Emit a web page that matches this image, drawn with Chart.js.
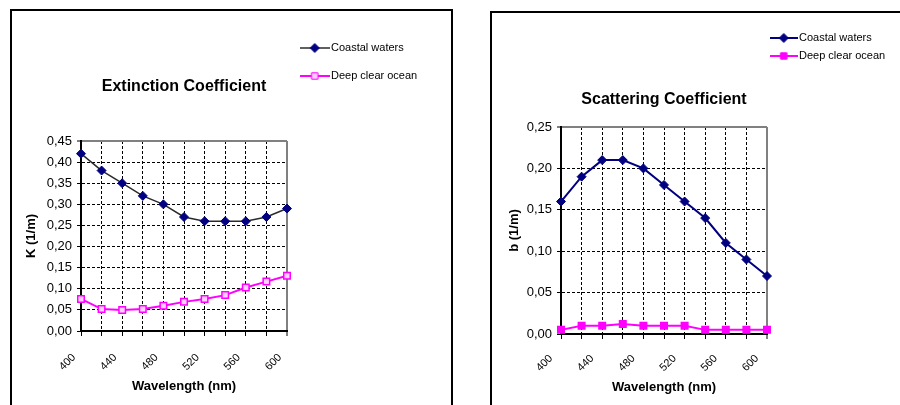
<!DOCTYPE html>
<html><head><meta charset="utf-8">
<script src="https://cdn.jsdelivr.net/npm/chart.js@4"></script>
<style>
html,body{margin:0;padding:0;background:#fff;width:900px;height:405px;overflow:hidden;position:relative;}
.frame{position:absolute;border:2px solid #000;box-sizing:border-box;}
#f1{left:10px;top:9px;width:443px;height:420px;}
#f2{left:490px;top:11px;width:430px;height:420px;}
canvas{position:absolute;}
#c1{left:14px;top:13px;}
#c2{left:494px;top:15px;}
</style></head><body>
<div class="frame" id="f1"></div><div class="frame" id="f2"></div>
<canvas id="c1" width="434" height="392"></canvas>
<canvas id="c2" width="406" height="390"></canvas>
<script>
// ---- data ----
const wavelengths = [400,420,440,460,480,500,520,540,560,580,600];
const shownWavelengths = [400,440,480,520,560,600];
const seriesNames = ['Coastal waters','Deep clear ocean'];
const coastalK = [0.42,0.38,0.35,0.32,0.30,0.27,0.26,0.26,0.26,0.27,0.29];
const deepK = [0.076,0.052,0.050,0.052,0.060,0.069,0.076,0.085,0.103,0.117,0.131];
const coastalB = [0.16,0.19,0.21,0.21,0.20,0.18,0.16,0.14,0.11,0.09,0.07];
const deepB = [0.005,0.010,0.010,0.012,0.010,0.010,0.010,0.005,0.005,0.005,0.005];

const FONT = '"Liberation Sans", Arial, sans-serif';

function legendIcon(w, lineColor, lineWidth, shape, fill, stroke, r){
  const c = document.createElement('canvas'); c.width = w; c.height = 12;
  const g = c.getContext('2d');
  g.strokeStyle = lineColor; g.lineWidth = lineWidth;
  g.beginPath(); g.moveTo(0,6); g.lineTo(w,6); g.stroke();
  g.fillStyle = fill; g.strokeStyle = stroke; g.lineWidth = 1;
  g.beginPath();
  if (shape === 'diamond') { g.moveTo(w/2-r,6); g.lineTo(w/2,6-r); g.lineTo(w/2+r,6); g.lineTo(w/2,6+r); g.closePath(); }
  else { g.rect(w/2-r,6-r,2*r,2*r); }
  g.fill(); g.stroke();
  return c;
}

const legendWidthPlugin = w => ({
  id: 'legendWidth',
  beforeLayout(chart){
    const lg = chart.legend;
    if (lg && !lg._fixedW) {
      const fit = lg.fit;
      lg.fit = function(){ fit.call(this); this.width = w; };
      lg._fixedW = true;
    }
  }
});

function buildChart(id, o){
  const isTopY = ctx => ctx.tick && Math.abs(ctx.tick.value - o.max) < 1e-6;
  const isLastX = ctx => ctx.index === wavelengths.length - 1;
  return new Chart(document.getElementById(id), {
    type: 'line',
    data: {
      labels: wavelengths.map(String),
      datasets: [
        {label: seriesNames[0], data: o.coastal, borderColor: o.coastalLine, borderWidth: o.coastalLW,
         pointStyle: 'rectRot', pointRadius: 4.5, pointBackgroundColor: '#000080', pointBorderColor: '#000080',
         pointBorderWidth: 1, tension: 0},
        {label: seriesNames[1], data: o.deep, borderColor: '#ff00ff', borderWidth: 2,
         pointStyle: 'rect', pointRadius: 4.6, pointBackgroundColor: o.deepFill, pointBorderColor: '#ff00ff',
         pointBorderWidth: 1.5, tension: 0}
      ]
    },
    options: {
      responsive: false, animation: false, devicePixelRatio: 1,
      layout: {padding: {top: o.padTop, left: 0, right: 0, bottom: 0}},
      plugins: {
        title: {display: true, text: o.title, fullSize: false, color: '#000',
                font: {family: FONT, size: 16, weight: 'bold'}, padding: {top: o.tPadT, bottom: o.tPadB}},
        legend: {position: 'right', align: 'start',
          labels: {usePointStyle: true, pointStyleWidth: o.boxW, padding: o.legPad, color: '#000',
            font: {family: FONT, size: 11},
            generateLabels: chart => chart.data.datasets.map((ds, i) => ({
              text: ds.label, pointStyle: o.icons[i], datasetIndex: i, hidden: false,
              lineWidth: 0, fillStyle: 'transparent', strokeStyle: 'transparent', fontColor: '#000'}))}},
        tooltip: {enabled: false}
      },
      scales: {
        x: {
          type: 'category', offset: false,
          grid: {color: ctx => isLastX(ctx) ? '#808080' : '#000', lineWidth: ctx => isLastX(ctx) ? 2 : 1,
                 tickColor: '#000', tickWidth: 1, tickLength: 5},
          border: {display: true, color: '#000', width: 2, dash: ctx => isLastX(ctx) ? [] : [3,2]},
          ticks: {autoSkip: false, minRotation: 45, maxRotation: 45, color: '#000',
                  padding: o.xtkPad, labelOffset: o.xtkOff,
                  font: {family: FONT, size: 11},
                  callback: (v, i) => shownWavelengths.includes(wavelengths[i]) ? String(wavelengths[i]) : ''},
          title: {display: true, text: 'Wavelength (nm)', color: '#000',
                  font: {family: FONT, size: 13, weight: 'bold'}, padding: {top: 0, bottom: o.xtPad}},
          afterFit: s => { s.height = o.xH; }
        },
        y: {
          min: 0, max: o.max,
          grid: {color: ctx => isTopY(ctx) ? '#808080' : '#000', lineWidth: ctx => isTopY(ctx) ? 2 : 1,
                 tickColor: '#000', tickWidth: 1, tickLength: 4},
          border: {display: true, color: '#000', width: 2, dash: ctx => isTopY(ctx) ? [] : [3,2]},
          ticks: {stepSize: 0.05, color: '#000', padding: 5, font: {family: FONT, size: 13},
                  callback: v => v.toFixed(2).replace('.', ',')},
          title: {display: true, text: o.yTitle, color: '#000',
                  font: {family: FONT, size: 13, weight: 'bold'}, padding: {top: o.ytPad, bottom: 0}},
          afterFit: s => { s.width = o.yW; }
        }
      }
    },
    plugins: [legendWidthPlugin(o.legW)]
  });
}

buildChart('c1', {
  coastal: coastalK, deep: deepK, max: 0.45, title: 'Extinction Coefficient', yTitle: 'K (1/m)',
  coastalLine: '#2b2b2b', coastalLW: 1.5, deepFill: '#ffd0ff',
  padTop: 12.5, tPadT: 51.9, tPadB: 44.4, legPad: 17, boxW: 21.5, legW: 161,
  xH: 74, xtPad: 11.2, yW: 67, ytPad: 10, xtkPad: 15, xtkOff: -7,
  icons: [legendIcon(30, '#2b2b2b', 1.5, 'diamond', '#000080', '#000080', 4.5),
          legendIcon(30, '#ff00ff', 2, 'square', '#ffd0ff', '#ff00ff', 3.2)]
});

buildChart('c2', {
  coastal: coastalB, deep: deepB, max: 0.25, title: 'Scattering Coefficient', yTitle: 'b (1/m)',
  coastalLine: '#000080', coastalLW: 2, deepFill: '#ff00ff',
  padTop: 10.5, tPadT: 64.9, tPadB: 17.4, legPad: 7, boxW: 19.5, legW: 133,
  xH: 71, xtPad: 10.2, yW: 67, ytPad: 13, xtkPad: 13, xtkOff: -10,
  icons: [legendIcon(28, '#000080', 2, 'diamond', '#000080', '#000080', 4.5),
          legendIcon(28, '#ff00ff', 2, 'square', '#ff00ff', '#ff00ff', 3.2)]
});
</script>
</body></html>
